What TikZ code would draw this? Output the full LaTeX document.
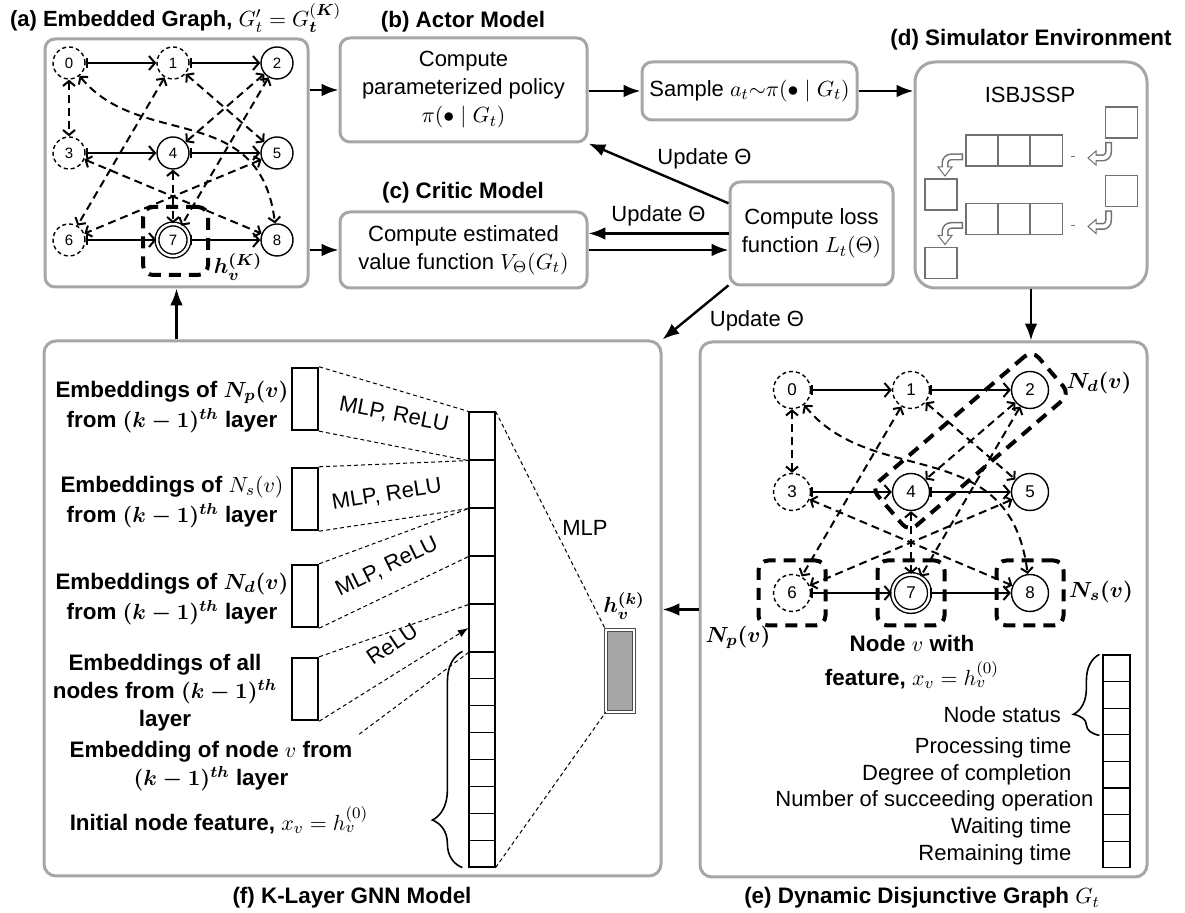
\documentclass[tikz,border=0pt]{standalone}
\usepackage{fontspec}
\setmainfont{Liberation Sans}
\usepackage{amsmath}
\usepackage{amssymb}
\usetikzlibrary{arrows.meta,calc,decorations.pathreplacing,positioning}
\definecolor{DiagFrame}{HTML}{A6A6A6}
\definecolor{DiagQueue}{HTML}{707070}
\definecolor{DiagShade}{HTML}{A6A6A6}
\newcommand{\bodyfont}{\fontsize{11}{14}\selectfont}
\newcommand{\panelfont}{\bfseries\fontsize{11.2}{13}\selectfont}
\newcommand{\gnnfont}{\bfseries\fontsize{11.2}{15}\selectfont}

\begin{document}
\begin{tikzpicture}[x=0.5pt,y=-0.5pt,>=Latex,
  panel/.style={draw=DiagFrame,line width=1.5pt,rounded corners=6pt,inner sep=0pt},
  stagebox/.style={panel,rounded corners=5pt,align=center,font=\bodyfont},
  heading/.style={font=\panelfont},
  flow/.style={->,line width=1.2pt},
  op/.style={circle,draw,line width=0.7pt,inner sep=0pt},
  opdash/.style={op,dash pattern=on 2pt off 1.5pt},
  opcur/.style={op,double,double distance=1.2pt},
  conj/.style={line width=1pt,{Bar[width=5pt]}-{Straight Barb[length=3pt,width=7pt]}},
  disj/.style={line width=1pt,dash pattern=on 4pt off 2.5pt,{Straight Barb[length=2.5pt,width=6pt]}-{Straight Barb[length=2.5pt,width=6pt]}},
  nbhd/.style={draw,line width=2pt,dash pattern=on 6pt off 4pt,rounded corners=5pt,inner sep=0pt},
  cellbox/.style={draw,line width=0.6pt,inner sep=0pt},
  guide/.style={line width=0.5pt,dash pattern=on 2pt off 1.5pt},
  qbox/.style={draw=DiagQueue,line width=0.6pt,inner sep=0pt,minimum width=16pt,minimum height=15.5pt},
  hollow/.style={draw=DiagQueue,fill=white,line width=0.5pt},
  embtext/.style={font=\gnnfont,align=center},
  featlabel/.style={font=\bodyfont,anchor=east},
  tightlbl/.style={font=\bodyfont,inner sep=0pt},
  gnnbrace/.style={decorate,line width=0.8pt}]
  \path[use as bounding box] (0,0) rectangle (1185,913);

  % panels
  \node[panel,rounded corners=5pt,minimum width=131.5pt,minimum height=124pt] (embg) at (176.5,163) {};
  \node[stagebox,minimum width=123.5pt,minimum height=52pt] (actor) at (463.5,90) {Compute\\parameterized policy\\$\pi(\bullet\mid G_t)$};
  \node[stagebox,minimum width=107.5pt,minimum height=29pt] (sample) at (749.5,91) {Sample $a_t{\sim}\pi(\bullet\mid G_t)$};
  \node[stagebox,minimum width=123.5pt,minimum height=38pt] (critic) at (463.5,250) {Compute estimated\\value function $V_\Theta(G_t)$};
  \node[stagebox,minimum width=81.5pt,minimum height=51.5pt] (loss) at (811.5,233.5) {Compute loss\\function $L_t(\Theta)$};
  \node[panel,rounded corners=10pt,minimum width=116pt,minimum height=113pt] (sim) at (1031,175) {};
  \node[panel,minimum width=308.5pt,minimum height=267.5pt] (gnn) at (352.5,608.5) {};
  \node[panel,minimum width=223.5pt,minimum height=267.5pt] (dyn) at (923.5,609.5) {};

  \node[anchor=west,font=\bfseries\fontsize{11}{12}\selectfont] (ttlA) at (3,18) {(a) Embedded Graph, $G'_t=G_{\boldsymbol{t}}^{(\boldsymbol{K})}$};
  \node[heading] (ttlB) at (463,22) {(b) Actor Model};
  \node[heading] (ttlC) at (463,193) {(c) Critic Model};
  \node[heading] (ttlD) at (1031,40) {(d) Simulator Environment};
  \node[heading] (ttlE) at (922,898) {(e) Dynamic Disjunctive Graph $G_t$};
  \node[heading] (ttlF) at (352,898) {(f) K-Layer GNN Model};

  % flows between panels
  \draw[flow] (embg.east |- actor.west) -- (actor.west);
  \draw[flow] (embg.east |- critic.west) -- (critic.west);
  \draw[flow] (actor.east |- sample.west) -- (sample.west);
  \draw[flow] (sample.east) -- (sample.east -| sim.west);
  \draw[flow] (sim.south) -- (sim.south |- dyn.north);
  \draw[flow] (dyn.west) -- (dyn.west -| gnn.east);
  \draw[flow] (embg.south |- gnn.north) -- (embg.south);
  \draw[flow] (critic.east) -- (critic.east -| loss.west);
  \draw[flow] (loss.west) -- (loss.west -| critic.east) node[midway,above,font=\bodyfont] (upd2) {Update Θ};
  \draw[flow] (loss.160) -- (actor.south east) node[pos=0.1,anchor=south,xshift=-5pt,yshift=10pt,font=\bodyfont] (upd1) {Update Θ};
  \draw[flow] (loss.212) -- (gnn.north east) node[pos=0.25,anchor=north west,xshift=-5pt,yshift=-2pt,font=\bodyfont] (upd3) {Update Θ};

  % (a) embedded graph
  \foreach \n/\px/\py/\kind in {0/69/63/opdash,1/173/63/opdash,2/277/63/op,3/69/153/opdash,4/173/153/op,5/277/153/op,6/69/240/opdash,7/173/240/opcur,8/277/240/op}
    \node[\kind,minimum size=16pt,font=\fontsize{7.5}{8}\selectfont] (a\n) at (\px,\py) {\n};
  \foreach \s/\t in {0/1,1/2,3/4,4/5,6/7,7/8}
    \draw[conj] (a\s) -- (a\t);
  \foreach \s/\t in {0/3,1/5,1/6,2/4,2/7,3/8,4/7,5/6}
    \draw[disj] (a\s) -- (a\t);
  \draw[disj] (a0) .. controls (140,150) and (260,100) .. (a8);
  \node[nbhd,minimum width=32.5pt,minimum height=34pt] (hK) at (175.5,241) {};
  \node[tightlbl] (hKlbl) at (238,267) {$\boldsymbol{h_v^{(K)}}$};

  % (d) simulator queues
  \node[font=\bodyfont] (simname) at (1030,95) {ISBJSSP};
  \foreach \dy/\r in {0/1,68.5/2} {
    \begin{scope}[shift={(0,\dy)}]
      \node[qbox] (qin\r) at (1121.5,122.5) {};
      \node[qbox] (qa\r) at (982,150.5) {};
      \node[qbox] (qb\r) at (1014,150.5) {};
      \node[qbox] (qc\r) at (1046.5,150.5) {};
      \node[qbox] (qout\r) at (941,194.5) {};
      \draw[DiagQueue,line width=0.5pt] (1071,157) -- (1075,157);
      \filldraw[hollow] (1096,151) -- (1088,158) -- (1096,165) -- cycle;
      \draw[DiagQueue,line width=3.5pt,rounded corners=3pt] (1108.5,142) -- (1108.5,158) -- (1096,158);
      \draw[white,line width=2pt,rounded corners=3pt] (1108.5,143.5) -- (1108.5,158) -- (1095,158);
      \filldraw[hollow] (938,167) -- (945,176) -- (952,167) -- cycle;
      \draw[DiagQueue,line width=3.5pt,rounded corners=3pt] (963,157) -- (945,157) -- (945,167);
      \draw[white,line width=2pt,rounded corners=3pt] (961.5,157) -- (945,157) -- (945,168);
    \end{scope}
  }

  % (e) dynamic disjunctive graph
  \foreach \n/\px/\py/\kind in {0/792/390/opdash,1/911/390/opdash,2/1030/390/op,3/792/492/opdash,4/911/492/op,5/1030/492/op,6/792/593/opdash,7/911/593/opcur,8/1030/593/op}
    \node[\kind,minimum size=18.5pt,font=\fontsize{8.5}{9}\selectfont] (e\n) at (\px,\py) {\n};
  \foreach \s/\t in {0/1,1/2,3/4,4/5,6/7,7/8}
    \draw[conj] (e\s) -- (e\t);
  \foreach \s/\t in {0/3,1/5,1/6,2/4,2/7,3/8,4/7,5/6}
    \draw[disj] (e\s) -- (e\t);
  \draw[disj] (e0) .. controls (873,490) and (1010,432) .. (e8);
  \node[nbhd,minimum width=33.5pt,minimum height=32.5pt] (np) at (e6) {};
  \node[nbhd,minimum width=33.5pt,minimum height=32.5pt] (nv) at (e7) {};
  \node[nbhd,minimum width=33.5pt,minimum height=32.5pt] (ns) at (e8) {};
  \node[nbhd,minimum width=106pt,minimum height=29pt,rotate=40.6] (nd) at ($(e2)!0.5!(e4)$) {};
  \node[font=\bodyfont] (ndlbl) at (1099,383) {$\boldsymbol{N_d(v)}$};
  \node[font=\bodyfont] (nslbl) at (1101,592) {$\boldsymbol{N_s(v)}$};
  \node[font=\bodyfont] (nplbl) at (738,637) {$\boldsymbol{N_p(v)}$};
  \node[font=\gnnfont] (nvlbl) at (912,643) {Node $v$ with};
  \node[font=\gnnfont] (nvfeat) at (912,675) {feature, $x_v = h_v^{(0)}$};

  \foreach \i in {1,...,8}
    \node[cellbox,minimum width=13.5pt,minimum height=13.3pt] (ft\i) at (1116.5,{641.7+26.6*\i}) {};
  \foreach \i/\txt in {4/Processing time,5/Degree of completion,7/Waiting time,8/Remaining time}
    \node[featlabel] (fl\i) at ([xshift=-12pt]ft\i.west) {\txt};
  \node[featlabel] (fl6) at ([xshift=-1pt]ft6.west) {Number of succeeding operation};
  \node[featlabel] (flst) at (1068,715) {Node status};
  \draw[gnnbrace,decoration={brace,amplitude=13pt,aspect=0.26}] ($(ft3.south west)+(-3,0)$) -- ($(ft1.north west)+(-3,0)$);

  % (f) GNN layer
  \foreach \i in {1,...,5}
    \node[cellbox,minimum width=13pt,minimum height=24pt] (big\i) at (482,{388+48*\i}) {};
  \foreach \i in {1,...,8}
    \node[cellbox,minimum width=13pt,minimum height=13.44pt] (sm\i) at (482,{638.56+26.88*\i}) {};
  \draw[gnnbrace,decoration={brace,amplitude=15pt,aspect=0.22}] ($(sm8.south west)+(-6,0)$) -- ($(sm1.north west)+(-6,0)$);

  \foreach \b/\py in {P/399,S/499,D/596,A/689}
    \node[draw,line width=1.2pt,minimum width=13pt,minimum height=31pt,inner sep=0pt] (nb\b) at (305,\py) {};
  \node[embtext] (lblP) at (172,407) {Embeddings of $\boldsymbol{N_p(v)}$\\from $\boldsymbol{(k-1)^{th}}$ layer};
  \node[embtext] (lblS) at (172,502) {Embeddings of $N_s(v)$\\from $\boldsymbol{(k-1)^{th}}$ layer};
  \node[embtext] (lblD) at (172,599) {Embeddings of $\boldsymbol{N_d(v)}$\\from $\boldsymbol{(k-1)^{th}}$ layer};
  \node[embtext,font=\bfseries\fontsize{11.2}{14}\selectfont] (lblA) at (165,693) {Embeddings of all\\nodes from $\boldsymbol{(k-1)^{th}}$\\layer};
  \node[embtext,font=\bfseries\fontsize{11.2}{14}\selectfont] (lblV) at (211,766) {Embedding of node $v$ from\\$\boldsymbol{(k-1)^{th}}$ layer};
  \node[embtext] (lblI) at (219,820) {Initial node feature, $x_v = h_v^{(0)}$};

  \draw[guide] (nbP.north east) -- (big1.north west);
  \draw[guide] (nbP.south east) -- (big1.south west);
  \draw[guide] (nbS.north east) -- (big1.south west);
  \draw[guide] (nbS.south east) -- (big2.south west);
  \draw[guide] (nbD.north east) -- (big2.south west);
  \draw[guide] (nbD.south east) -- (big3.south west);
  \draw[guide] (nbA.north east) -- (big4.south west);
  \draw[guide,->] (nbA.south east) -- (big5.west);
  \draw[guide] ($(nbA.south east)+(40,13)$) -- (big5.south west);

  \node[tightlbl,rotate=-11] (mlp1) at (394,415) {MLP, ReLU};
  \node[tightlbl,rotate=9] (mlp2) at (387,495) {MLP, ReLU};
  \node[tightlbl,rotate=26] (mlp3) at (387,567) {MLP, ReLU};
  \node[tightlbl,rotate=34] (relu) at (392,644) {ReLU};
  \node[font=\bodyfont] (mlpout) at (585,528) {MLP};

  \node[draw=black!70,double=white,double distance=0.8pt,line width=0.4pt,fill=DiagShade,minimum width=14pt,minimum height=41pt,inner sep=0pt] (hk) at (620,671) {};
  \node[tightlbl] (hklbl) at (624,606) {$\boldsymbol{h_v^{(k)}}$};
  \draw[guide] (big1.north east) -- (hk.north west);
  \draw[guide] (sm8.south east) -- (hk.south west);
\end{tikzpicture}
\end{document}
